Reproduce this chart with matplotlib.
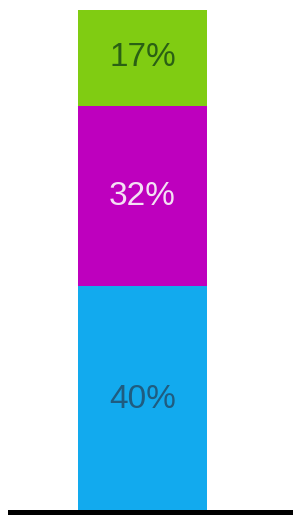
import matplotlib
matplotlib.use("Agg")
import matplotlib.pyplot as plt

categories = ["Blue", "Magenta", "Green"]
values = [40, 32, 17]
labels = ["40%", "32%", "17%"]
colors = ["#12AAEE", "#BE00BE", "#80CC12"]
text_colors = ["#1F5C80", "#F4E0F4", "#2A6014"]

fig = plt.figure(figsize=(2.93, 5.16), dpi=100)
ax = fig.add_axes([10/293, 4/516, 283/293, 502/516])
ax.set_xlim(0, 1)
ax.set_ylim(0, sum(values))

bottom = 0
for v, lab, c, tc in zip(values, labels, colors, text_colors):
    ax.bar(0.468, v, width=0.456, bottom=bottom, color=c, edgecolor="none")
    ax.text(0.468, bottom + v / 2, lab, ha="center", va="center",
            fontsize=24, color=tc, family=["Liberation Sans", "DejaVu Sans"])
    bottom += v

ax.axhline(0, color="black", linewidth=3.6, clip_on=False)
for s in ax.spines.values():
    s.set_visible(False)
ax.set_xticks([])
ax.set_yticks([])
fig.savefig("out.png", dpi=100)
